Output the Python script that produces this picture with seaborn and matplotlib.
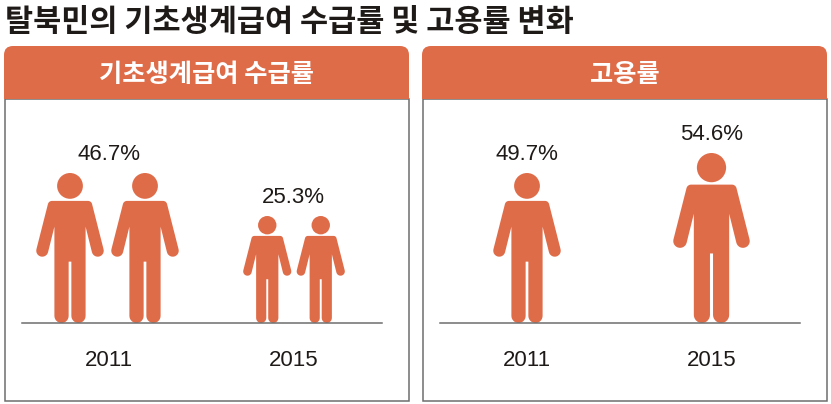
import numpy as np
import pandas as pd
import seaborn as sns
import matplotlib.pyplot as plt
from matplotlib.path import Path
from matplotlib.patches import FancyBboxPatch, Rectangle

years = ["2011", "2015"]
benefit_rate = [46.7, 25.3]
employment_rate = [49.7, 54.6]
benefit_people = [2, 2]
employment_people = [1, 1]

title = "탈북민의 기초생계급여 수급률 및 고용률 변화"
benefit_title = "기초생계급여 수급률"
employment_title = "고용률"

# drawn height of the figures in the picture, in pixels
figure_px = {46.7: 150, 25.3: 107, 49.7: 150, 54.6: 170}
# the pairs of figures don't sit quite centred over their year
nudge_px = {46.7: -1.5, 25.3: 0.5, 49.7: 0, 54.6: 0}

ORANGE = "#DF6C49"
GREY = "#6E6E6E"
INK = "#1E1A18"
NUM_FONT = ["Liberation Sans", "DejaVu Sans"]
W, H = 831, 404
DPI = 100
GROUP_STEP = 184.5  # px between 2011 and 2015


def arc(cx, cy, r, a0, a1, n=14):
    t = np.radians(np.linspace(a0, a1, n))
    return np.column_stack([cx + r * np.cos(t), cy + r * np.sin(t)])


def person_marker():
    # person one unit tall, feet on the origin
    half = np.vstack([
        [[0, 0.814]],
        arc(0.120, 0.786, 0.028, 90, 14),
        arc(0.185, 0.482, 0.040, 14, -166),
        [[0.104, 0.642]],
        arc(0.0565, 0.0475, 0.0475, 0, -180),
        [[0.009, 0.409], [0, 0.409]],
    ])
    other = half[::-1] * [-1, 1]
    body = Path(np.vstack([half, other[1:]]), closed=True)
    head = Path.circle((0, 0.914), 0.086)
    return Path.make_compound_path(body, head)


def draw_panel(bg, x0, header):
    bg.add_patch(Rectangle((x0, 99), 404, 302, fc="white", ec=GREY, lw=1.1))
    top = FancyBboxPatch((x0 - 0.5, 46), 405, 80, boxstyle="round,pad=0,rounding_size=9",
                         fc=ORANGE, ec="none")
    bg.add_patch(top)
    top.set_clip_path(Rectangle((x0 - 1, 45), 407, 54, transform=bg.transData))
    bg.text(x0 + 202, 74, header, color="white", fontsize=18.2, fontweight="bold",
            ha="center", va="center")


def draw_people(fig, left, rates, people):
    ax = fig.add_axes([left / W, (H - 323) / H, 359.5 / W, 224 / H], facecolor="none")
    rows = []
    for i, (rate, n) in enumerate(zip(rates, people)):
        h = figure_px[rate]
        for k in range(n):
            shift = ((k - (n - 1) / 2) * 0.5 * h + nudge_px[rate]) / GROUP_STEP
            rows.append({"pos": i + shift, "base": 0, "rate": rate})
    df = pd.DataFrame(rows)
    sizes = {r: (2 * figure_px[r] * 72 / DPI) ** 2 for r in rates}
    sns.scatterplot(data=df, x="pos", y="base", size="rate", sizes=sizes, marker=person_marker(),
                    color=ORANGE, edgecolor="none", linewidth=0, legend=False, ax=ax)
    for i, rate in enumerate(rates):
        ax.annotate(f"{rate}%", (i, figure_px[rate]), xytext=(0, 13.5), textcoords="offset points",
                    ha="center", va="center", fontsize=16, color=INK, family=NUM_FONT)
    ax.set_xlim(-87 / GROUP_STEP, 272.5 / GROUP_STEP)
    ax.set_ylim(0, 224)
    ax.set_yticks([])
    ax.set_xticks(range(len(years)), years, fontsize=16, color=INK, family=NUM_FONT)
    ax.tick_params(axis="x", length=0, pad=19.5)
    ax.set_xlabel("")
    ax.set_ylabel("")
    sns.despine(ax=ax, left=True)
    ax.spines["bottom"].set_color(GREY)
    ax.spines["bottom"].set_linewidth(1.1)


def main():
    sns.set_theme(style="white")
    plt.rcParams["font.family"] = ["Noto Sans CJK KR", "DejaVu Sans"]

    fig = plt.figure(figsize=(W / DPI, H / DPI), dpi=DPI, facecolor="white")
    bg = fig.add_axes([0, 0, 1, 1])
    bg.set_xlim(0, W)
    bg.set_ylim(H, 0)
    bg.axis("off")

    bg.text(5, 21.5, title, color=INK, fontsize=22, fontweight="bold", ha="left", va="center")
    draw_panel(bg, 4.5, benefit_title)
    draw_panel(bg, 422.5, employment_title)

    draw_people(fig, 22, benefit_rate, benefit_people)
    draw_people(fig, 440, employment_rate, employment_people)

    fig.savefig("out.png", dpi=DPI)


if __name__ == "__main__":
    main()
